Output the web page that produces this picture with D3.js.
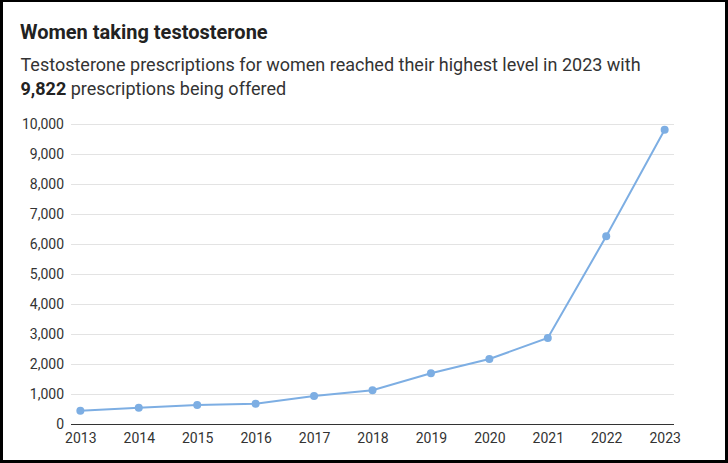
<!DOCTYPE html>
<html>
<head>
<meta charset="UTF-8">
<title>Women taking testosterone</title>
<script src="https://cdn.jsdelivr.net/npm/d3@7"></script>
<style>
  html, body { margin: 0; padding: 0; background: #fff; }
  #frame {
    position: absolute; left: 0; top: 0;
    width: 722px; height: 458px;
    border: 3px solid #000; border-top-width: 2px;
  }
  svg { position: absolute; left: -3px; top: -2px; font-family: Roboto, "Noto Sans", sans-serif; }
</style>
</head>
<body>
<div id="frame"></div>
<script>
// data
var years = ["2013","2014","2015","2016","2017","2018","2019","2020","2021","2022","2023"];
var prescriptions = [460, 560, 650, 693, 950, 1140, 1707, 2183, 2883, 6273, 9822];
var yTicks = [0,1000,2000,3000,4000,5000,6000,7000,8000,9000,10000];

var svg = d3.select("#frame").append("svg")
            .attr("width", 728).attr("height", 463);

// title + subtitle
svg.append("text").attr("x", 20).attr("y", 39)
   .attr("font-size", 20).attr("font-weight", 700).attr("fill", "#222")
   .text("Women taking testosterone");

var sub = svg.append("text").attr("x", 20.5).attr("y", 70.5)
             .attr("font-size", 18).attr("fill", "#333");
sub.append("tspan")
   .text("Testosterone prescriptions for women reached their highest level in 2023 with");
var l2 = sub.append("tspan").attr("x", 20.5).attr("dy", 24.5);
l2.append("tspan").attr("font-weight", 700).attr("fill", "#222").text("9,822");
l2.append("tspan").text(" prescriptions being offered");

var x = d3.scalePoint().domain(years).range([71, 674]).padding(0.16);
var y = d3.scaleLinear().domain([0, 10000]).range([424.5, 124.5]);

// grid lines
svg.append("g").selectAll("line")
   .data(yTicks.filter(function (d) { return d > 0; }))
   .enter().append("line")
   .attr("x1", 71).attr("x2", 674)
   .attr("y1", function (d) { return y(d); })
   .attr("y2", function (d) { return y(d); })
   .attr("stroke", "#e3e3e3").attr("stroke-width", 1);

// y axis labels
var yAxis = d3.axisLeft(y).tickValues(yTicks).tickSize(0).tickPadding(0)
              .tickFormat(d3.format(","));
svg.append("g").attr("transform", "translate(64,0)").call(yAxis)
   .call(function (g) { g.select(".domain").remove(); })
   .selectAll("text")
   .attr("font-family", "Roboto, sans-serif").attr("font-size", 14).attr("fill", "#333");

// baseline
svg.append("line").attr("x1", 71).attr("x2", 674)
   .attr("y1", y(0)).attr("y2", y(0))
   .attr("stroke", "#333").attr("stroke-width", 1);

// x axis labels
var xAxis = d3.axisBottom(x).tickSize(0).tickPadding(9);
svg.append("g").attr("transform", "translate(0," + y(0) + ")").call(xAxis)
   .call(function (g) { g.select(".domain").remove(); })
   .selectAll("text")
   .attr("font-family", "Roboto, sans-serif").attr("font-size", 14).attr("fill", "#333");

var pts = years.map(function (yr, i) { return { year: yr, value: prescriptions[i] }; });

var line = d3.line()
             .x(function (d) { return x(d.year); })
             .y(function (d) { return y(d.value); });

svg.append("path").datum(pts)
   .attr("d", line)
   .attr("fill", "none").attr("stroke", "#7daee3").attr("stroke-width", 2);

svg.selectAll("circle").data(pts).enter().append("circle")
   .attr("cx", function (d) { return x(d.year); })
   .attr("cy", function (d) { return y(d.value); })
   .attr("r", 4)
   .attr("fill", "#7daee3");
</script>
</body>
</html>
